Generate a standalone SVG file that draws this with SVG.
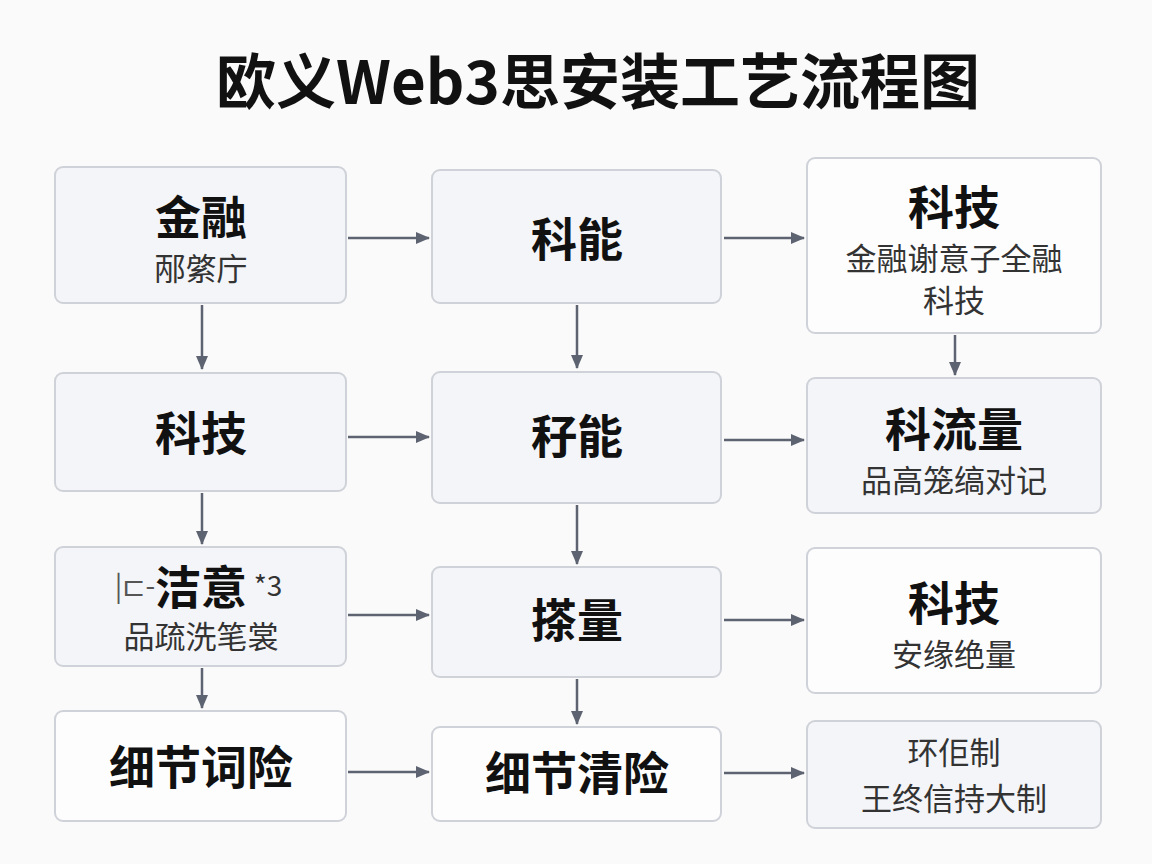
<svg xmlns="http://www.w3.org/2000/svg" width="1152" height="864" viewBox="0 0 1152 864">
<style>
.b{stroke:#cfd2d8;stroke-width:2}
.g{fill:#f4f5f8}.w{fill:#fdfdfe}
text{font-family:"Noto Sans CJK SC","Noto Sans",sans-serif;text-anchor:middle;fill:#111}
.t{font-size:46px;font-weight:bold}
.s{font-size:31px;fill:#333}
.c line{stroke:#5d6370;stroke-width:2.5;marker-end:url(#a)}
</style>
<defs><marker id="a" markerWidth="14" markerHeight="14" refX="13" refY="7" orient="auto" markerUnits="userSpaceOnUse"><path d="M0,1L14,7L0,13Z" fill="#5d6370"/></marker></defs>
<rect width="1152" height="864" fill="#fafafb"/>
<text x="598" y="104" style="font-size:60px;font-weight:bold">欧义Web3思安装工艺流程图</text>
<g id="n1"><rect class="b g" x="55" y="167" width="291" height="136" rx="8"/><text class="t" x="201" y="234">金融</text><text class="s" x="201" y="280">邴綮庁</text></g>
<g id="n2"><rect class="b g" x="55" y="373" width="291" height="118" rx="8"/><text class="t" x="201" y="450">科技</text></g>
<g id="n3"><rect class="b g" x="55" y="547" width="291" height="119" rx="8"/><text class="t" x="201" y="604">洁意</text><text x="135" y="596" style="font-size:28px;fill:#555">|⊏-</text><text x="268" y="596" style="font-size:28px;fill:#333">*3</text><text class="s" x="201" y="648">品疏洗笔裳</text></g>
<g id="n4"><rect class="b w" x="55" y="711" width="291" height="110" rx="8"/><text class="t" x="201" y="784">细节词险</text></g>
<g id="n5"><rect class="b g" x="432" y="170" width="289" height="133" rx="8"/><text class="t" x="577" y="256">科能</text></g>
<g id="n6"><rect class="b g" x="432" y="372" width="289" height="131" rx="8"/><text class="t" x="577" y="453">秄能</text></g>
<g id="n7"><rect class="b g" x="432" y="567" width="289" height="110" rx="8"/><text class="t" x="577" y="637">搽量</text></g>
<g id="n8"><rect class="b w" x="432" y="727" width="289" height="94" rx="8"/><text class="t" x="577" y="790">细节清险</text></g>
<g id="n9"><rect class="b w" x="807" y="158" width="294" height="175" rx="8"/><text class="t" x="954" y="224">科技</text><text class="s" x="954" y="270">金融谢意子全融</text><text class="s" x="954" y="312">科技</text></g>
<g id="n10"><rect class="b g" x="807" y="378" width="294" height="135" rx="8"/><text class="t" x="954" y="446">科流量</text><text class="s" x="954" y="492">品高笼缟对记</text></g>
<g id="n11"><rect class="b w" x="807" y="548" width="294" height="145" rx="8"/><text class="t" x="954" y="620">科技</text><text class="s" x="954" y="666">安缘绝量</text></g>
<g id="n12"><rect class="b g" x="807" y="721" width="294" height="107" rx="8"/><text class="s" x="954" y="764">环佢制</text><text class="s" x="954" y="810">王终信持大制</text></g>
<g class="c" id="connectors">
<line x1="348" y1="238" x2="429" y2="238"/><line x1="348" y1="437" x2="429" y2="437"/><line x1="348" y1="615" x2="429" y2="615"/><line x1="348" y1="772" x2="429" y2="772"/>
<line x1="724" y1="238" x2="804" y2="238"/><line x1="724" y1="440" x2="804" y2="440"/><line x1="724" y1="620" x2="804" y2="620"/><line x1="724" y1="773" x2="804" y2="773"/>
<line x1="202" y1="305" x2="202" y2="369"/><line x1="202" y1="493" x2="202" y2="544"/><line x1="202" y1="668" x2="202" y2="708"/>
<line x1="577" y1="305" x2="577" y2="368"/><line x1="577" y1="505" x2="577" y2="564"/><line x1="577" y1="679" x2="577" y2="724"/>
<line x1="955" y1="335" x2="955" y2="375"/>
</g>
</svg>
